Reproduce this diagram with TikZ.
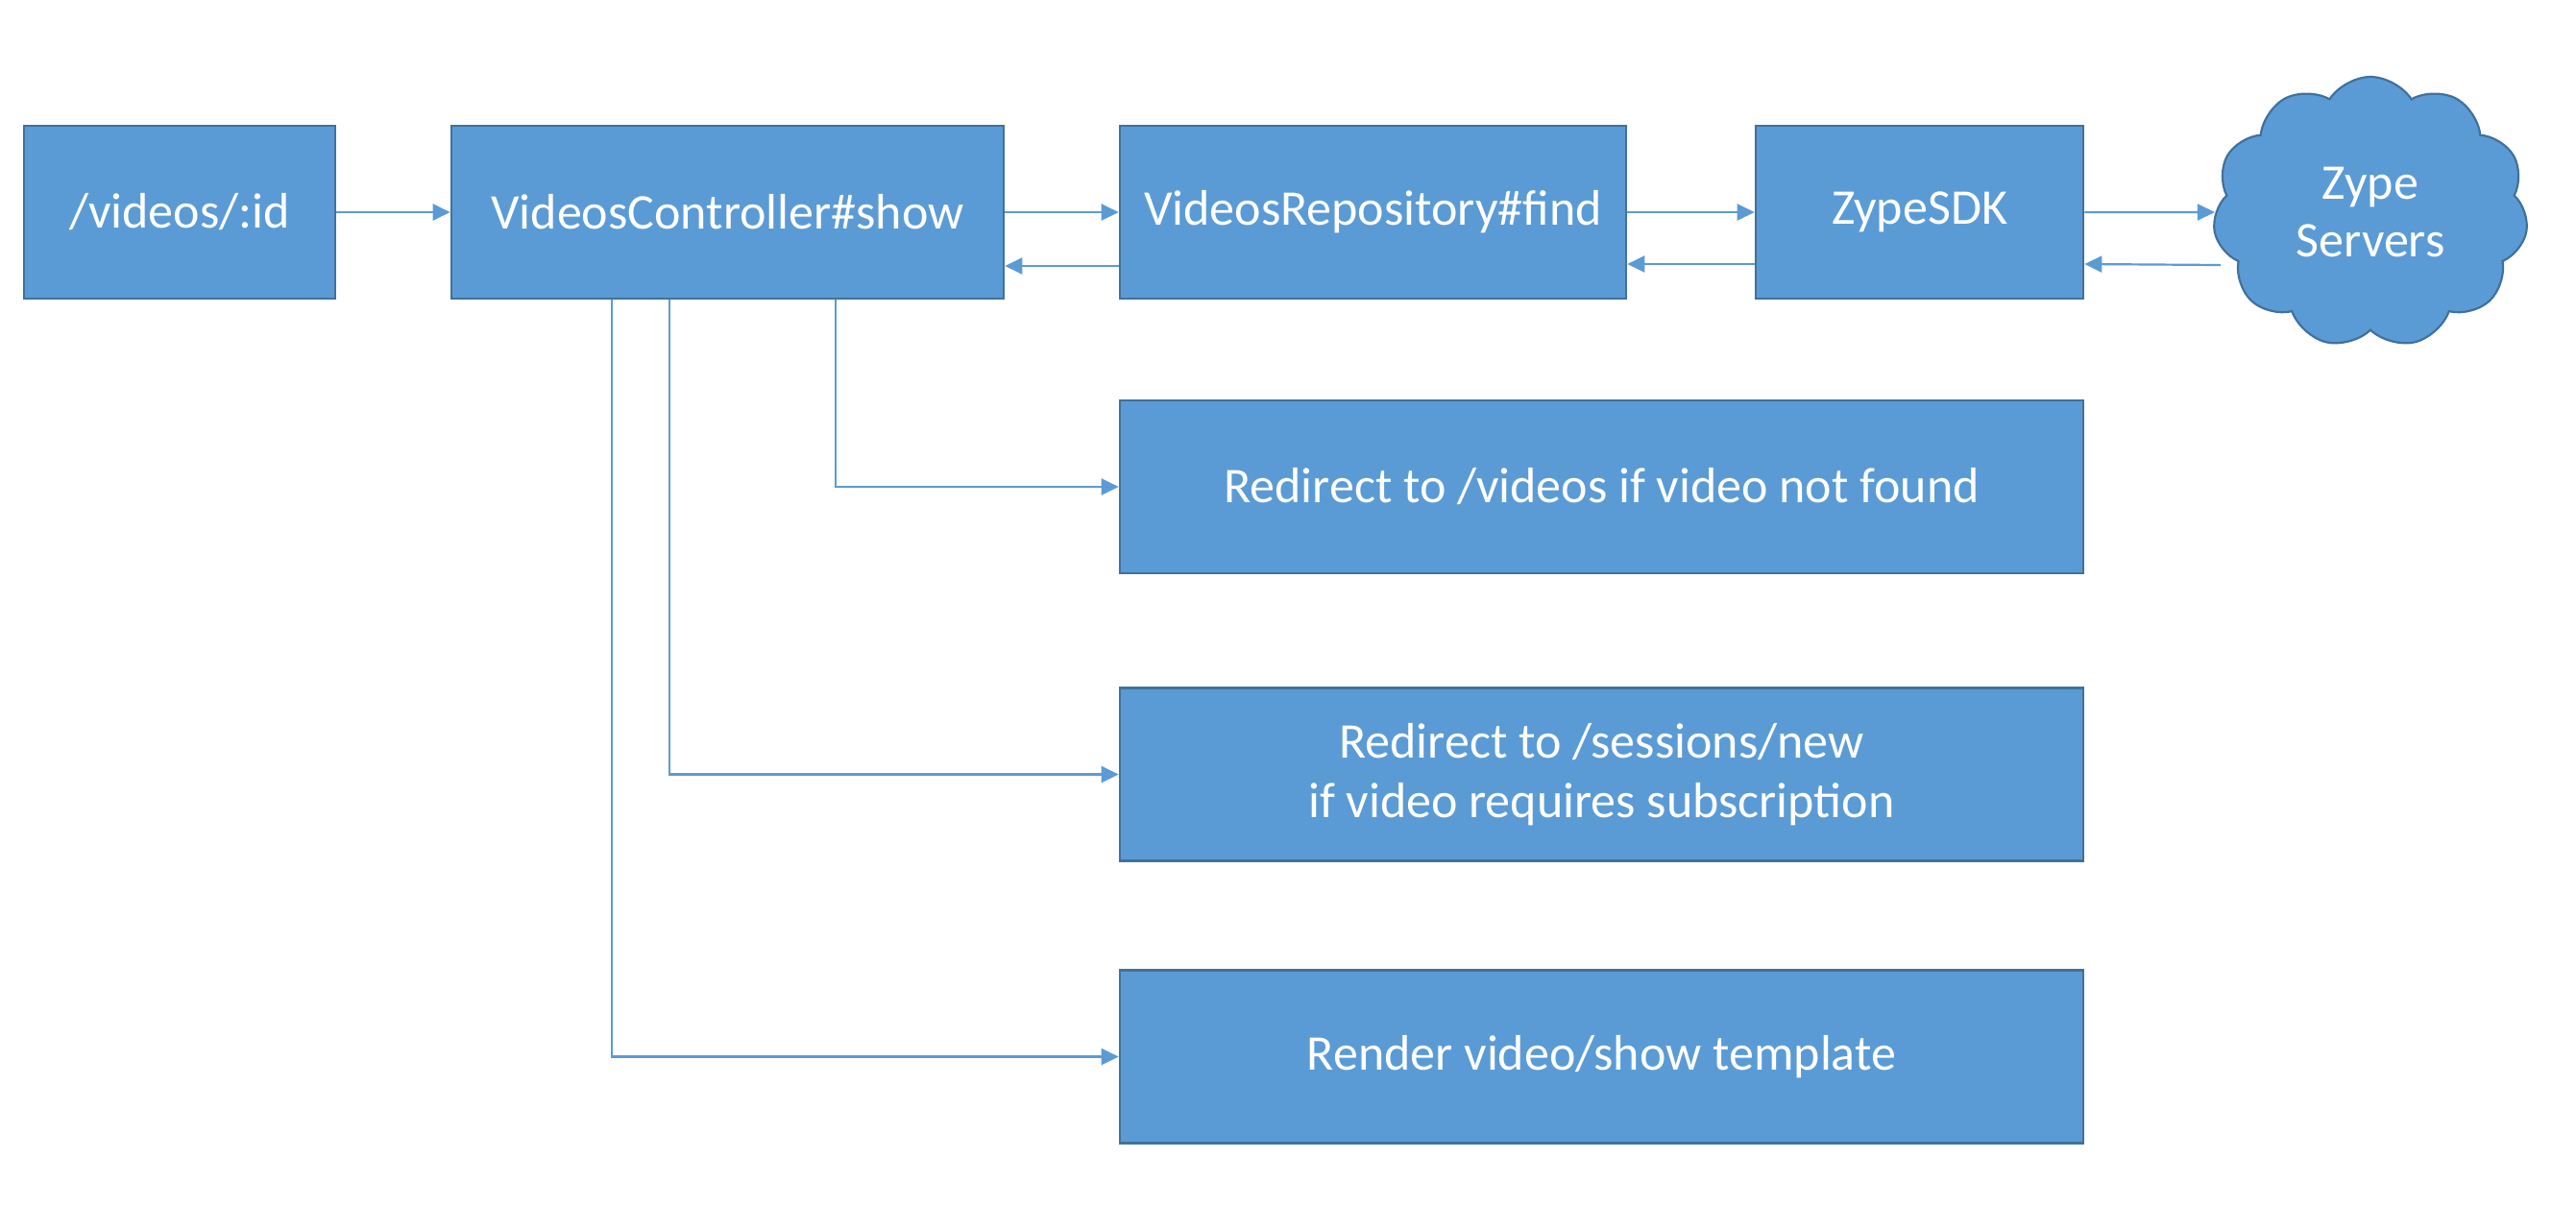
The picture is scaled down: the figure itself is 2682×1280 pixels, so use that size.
\documentclass[tikz,border=0pt]{standalone}
\usepackage{fontspec}
\setmainfont{Carlito}
\usepackage{tikz}
\usetikzlibrary{shapes.symbols, arrows.meta}
\definecolor{boxblue}{HTML}{5B9BD5}
\definecolor{boxedge}{HTML}{41719C}
\tikzstyle{process} = [rectangle, minimum height=90pt, text centered, draw=boxedge, line width=1.3pt, fill=boxblue, text=white, font=\fontsize{26}{31}\selectfont, align=center, inner sep=0pt]
\tikzstyle{process_wide} = [process, minimum width=501.5pt]
\tikzstyle{cloud_node} = [cloud, cloud puffs=11, cloud puff arc=115, aspect=1.15, minimum width=164pt, minimum height=141pt, draw=boxedge, line width=1.1pt, fill=boxblue, text=white, font=\fontsize{26}{30}\selectfont, align=center, inner sep=0pt]
\tikzstyle{arrow} = [line width=1.1pt, draw=boxblue, -{Triangle[length=9pt,width=8.5pt]}]

\begin{document}
\begin{tikzpicture}[x=0.5pt, y=-0.5pt]
\useasboundingbox (0,0) rectangle (2682,1280);
		\node (route) [process, minimum width=162pt] at (187,221) {/videos/:id};
		\node (ctrl_show) [process, minimum width=287.5pt, right of=route, node distance=285.25pt] {VideosController\#show};
		\node (repo_find) [process, minimum width=263.5pt, right of=ctrl_show, node distance=336pt] {VideosRepository\#find};
		\node (zype_sdk) [process, minimum width=170.5pt, right of=repo_find, node distance=284.5pt] {ZypeSDK};
		\node (zype_servers) [cloud_node, right of=zype_sdk, node distance=234.75pt] {Zype\\Servers};

		\node (not_found) [process_wide] at (1667.5,507) {Redirect to /videos if video not found};
		\node (need_sub) [process_wide, below of=not_found, node distance=149.75pt] {Redirect to /sessions/new\\if video requires subscription};
		\node (render_show) [process_wide, below of=need_sub, node distance=147pt] {Render video/show template};

		\draw [arrow] (route) -- (ctrl_show);
		\draw [arrow] (ctrl_show) -- (repo_find);
		\draw [arrow] ([yshift=-28pt]repo_find.west) -- ([yshift=-28pt]ctrl_show.east);
		\draw [arrow] (repo_find) -- (zype_sdk);
		\draw [arrow] ([yshift=-27pt]zype_sdk.west) -- ([yshift=-27pt]repo_find.east);
		\draw [arrow] (zype_sdk) -- (zype_servers);
		\draw [arrow] ([xshift=3pt,yshift=-27.5pt]zype_servers.west) -- ([yshift=-27pt]zype_sdk.east);

		\draw [arrow] ([xshift=56.25pt]ctrl_show.south) |- (not_found.west);
		\draw [arrow] ([xshift=-30.25pt]ctrl_show.south) |- (need_sub.west);
		\draw [arrow] ([xshift=-60.25pt]ctrl_show.south) |- (render_show.west);
\end{tikzpicture}
\end{document}
